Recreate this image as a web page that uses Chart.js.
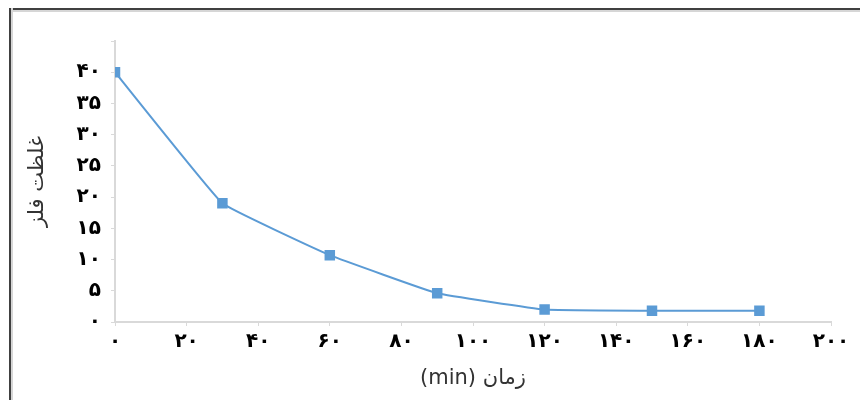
<!DOCTYPE html>
<html lang="fa">

<head>
  <meta charset="UTF-8" />
  <title>غلظت فلز</title>
  <style>
    body {
      margin: 0;
      background: #fff;
      overflow: hidden;
    }

    .box {
      position: relative;
      width: 860px;
      height: 400px;
    }

    .line {
      position: absolute;
      background: #404040;
    }

    .top {
      left: 9px;
      top: 8px;
      width: 851px;
      height: 2px;
      border-bottom: 2px solid #d6d6d6;
    }

    .left {
      left: 9px;
      top: 8px;
      width: 2px;
      height: 392px;
      border-right: 2px solid #d6d6d6;
    }
  </style>
</head>

<body>
  <div class="box">
    <canvas id="myChart" width="860" height="400"></canvas>
    <div class="line top"></div>
    <div class="line left"></div>
  </div>
  <script src="https://cdn.jsdelivr.net/npm/chart.js@4/dist/chart.umd.min.js"></script>
  <script>
    // time (min) and metal concentration
    const times = [0, 30, 60, 90, 120, 150, 180];
    const conc = [40, 19, 10.7, 4.6, 2.0, 1.8, 1.8];

    const xTicks = [0, 20, 40, 60, 80, 100, 120, 140, 160, 180, 200];
    const yTicks = [0, 5, 10, 15, 20, 25, 30, 35, 40];

    const xTitle = "(min) زمان";
    const yTitle = "غلظت فلز";

    // convert to persian digits
    function fa(n) {
      return String(n).replace(/\d/g, d => "۰۱۲۳۴۵۶۷۸۹"[d]);
    }

    const axisColor = "#d9d9d9";
    const tickFont = { family: "DejaVu Sans", size: 20, weight: "bold" };

    var ctx = document.getElementById("myChart").getContext("2d");
    var myChart = new Chart(ctx, {
      type: "line",
      data: {
        datasets: [{
          data: times.map((t, i) => ({ x: t, y: conc[i] })),
          borderColor: "#5b9bd5",
          backgroundColor: "#5b9bd5",
          borderWidth: 2,
          pointStyle: "rect",
          pointRadius: 6,
          pointHoverRadius: 6,
          tension: 0.08,
          fill: false
        }]
      },
      options: {
        responsive: false,
        animation: false,
        layout: { padding: { top: 41, right: 29, left: 0, bottom: 0 } },
        plugins: {
          legend: { display: false },
          tooltip: { enabled: false }
        },
        scales: {
          x: {
            type: "linear",
            min: 0,
            max: 200,
            afterBuildTicks: s => { s.ticks = xTicks.map(v => ({ value: v })); },
            afterFit: s => { s.height = 78; },
            border: { color: axisColor, width: 2 },
            grid: { display: true, drawOnChartArea: false, color: axisColor, tickLength: 4 },
            ticks: {
              color: "#000",
              font: tickFont,
              padding: 4,
              maxRotation: 0,
              callback: v => fa(v)
            },
            title: {
              display: true,
              text: xTitle,
              color: "#333",
              font: { family: "DejaVu Sans", size: 21 },
              padding: { top: 0, bottom: 9 }
            }
          },
          y: {
            min: 0,
            max: 45,
            afterBuildTicks: s => { s.ticks = yTicks.concat([45]).map(v => ({ value: v })); },
            afterFit: s => { s.width = 115; },
            border: { color: axisColor, width: 2 },
            grid: { display: true, drawOnChartArea: false, color: axisColor, tickLength: 4 },
            ticks: {
              color: "#000",
              font: tickFont,
              padding: 10,
              callback: v => (yTicks.includes(v) ? fa(v) : "")
            },
            title: {
              display: true,
              text: yTitle,
              color: "#333",
              font: { family: "DejaVu Sans", size: 21 },
              padding: { top: 25, bottom: 0 }
            }
          }
        }
      }
    });
  </script>
</body>

</html>
